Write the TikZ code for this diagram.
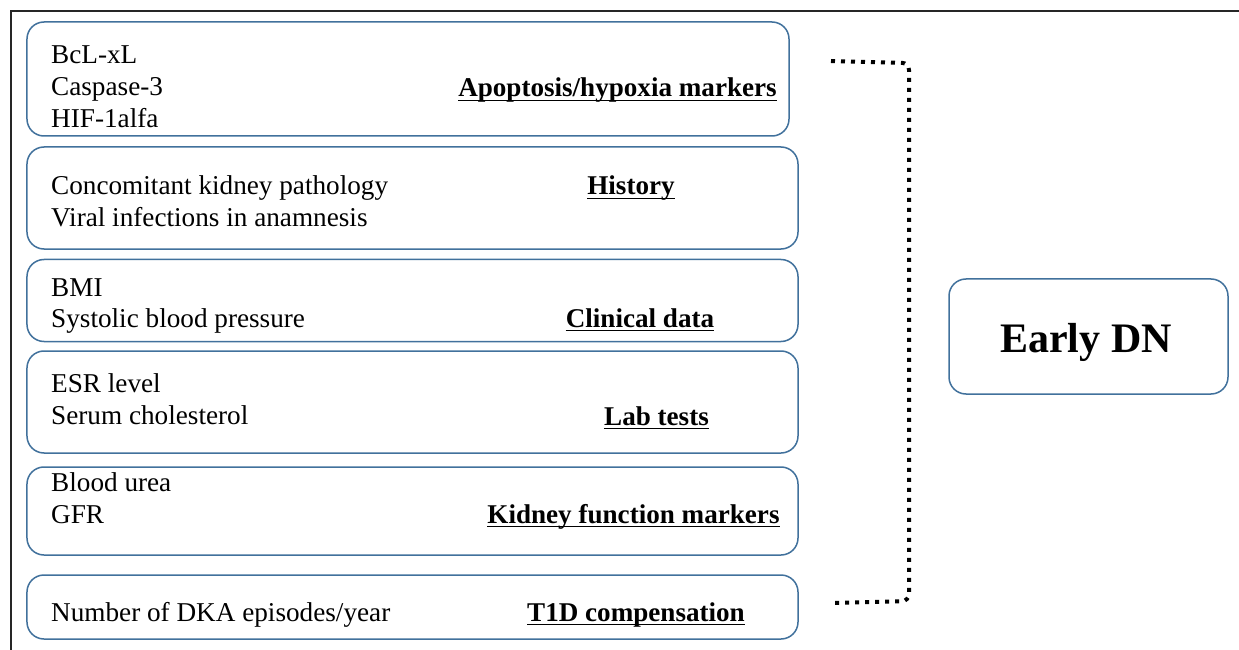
\documentclass[tikz,border=0pt]{standalone}
\usepackage{fontspec}
\setmainfont{Liberation Serif}
\definecolor{boxblue}{HTML}{41719C}
\tikzset{
  grp/.style={draw=boxblue, line width=1.5bp, rounded corners=17bp, inner sep=0pt, fill=white},
  item/.style={anchor=base west, inner sep=0pt, font=\fontsize{27.2bp}{32bp}\selectfont},
  head/.style={anchor=base, inner sep=0pt, font=\bfseries\fontsize{27.1bp}{32bp}\selectfont},
  uline/.style={line width=1.6bp, black},
  brk/.style={line width=4bp, dash pattern=on 4bp off 6bp, rounded corners=7bp},
  frame/.style={line width=1.5bp, black!85}
}
\begin{document}
\begin{tikzpicture}[x=1bp,y=-1bp]
\useasboundingbox (0,0) rectangle (1239,650);
% frame
\coordinate (fa) at (11,650);
\coordinate (fb) at (11,11);
\coordinate (fc) at (1239,11);
\draw[frame] (fa) -- (fb) -- (fc);

% group boxes
\node[grp, minimum width=762bp, minimum height=114bp] (b1) at (408,79) {};
\node[grp, minimum width=771bp, minimum height=102bp] (b2) at (412.5,198) {};
\node[grp, minimum width=771bp, minimum height=82bp]  (b3) at (412.5,300.5) {};
\node[grp, minimum width=771bp, minimum height=102bp] (b4) at (412.5,402) {};
\node[grp, minimum width=771bp, minimum height=88bp]  (b5) at (412.5,511) {};
\node[grp, minimum width=771bp, minimum height=64bp]  (b6) at (412.5,607) {};

% items
\node[item] (t11) at (51,64) {BcL-xL};
\node[item] (t12) at (51,96) {Caspase-3};
\node[item] (t13) at (51,128) {HIF-1alfa};
\node[item] (t21) at (51,195) {Concomitant kidney pathology};
\node[item] (t22) at (51,227) {Viral infections in anamnesis};
\node[item] (t31) at (51,296) {BMI};
\node[item] (t32) at (51,327) {Systolic blood pressure};
\node[item] (t41) at (51,392) {ESR level};
\node[item] (t42) at (51,424) {Serum cholesterol};
\node[item] (t51) at (51,491) {Blood urea};
\node[item] (t52) at (51,523) {GFR};
\node[item] (t61) at (51,621) {Number of DKA episodes/year};

% headings
\node[head] (h1) at (617.5,97) {Apoptosis/hypoxia markers};
\node[head] (h2) at (631,195) {History};
\node[head] (h3) at (640,327) {Clinical data};
\node[head] (h4) at (656.5,425) {Lab tests};
\node[head] (h5) at (633.5,523) {Kidney function markers};
\node[head] (h6) at (636,621) {T1D compensation};
\foreach \h in {h1,h2,h3,h4,h5,h6}
  \draw[uline] ([yshift=-3.5bp]\h.base west) -- ([yshift=-3.5bp]\h.base east);

% outcome
\node[grp, minimum width=279bp, minimum height=115bp] (dn) at (1088.5,336.5) {};
\node[anchor=base, inner sep=0pt, font=\bfseries\fontsize{42bp}{48bp}\selectfont] (dnt) at (1086,352) {Early DN};

% bracket
\coordinate (k1) at (831,61);
\coordinate (k2) at (909,63);
\coordinate (k3) at (909,601);
\coordinate (k4) at (831,603);
\draw[brk] (k1) -- (k2) -- (k3) -- (k4);
\end{tikzpicture}
\end{document}
